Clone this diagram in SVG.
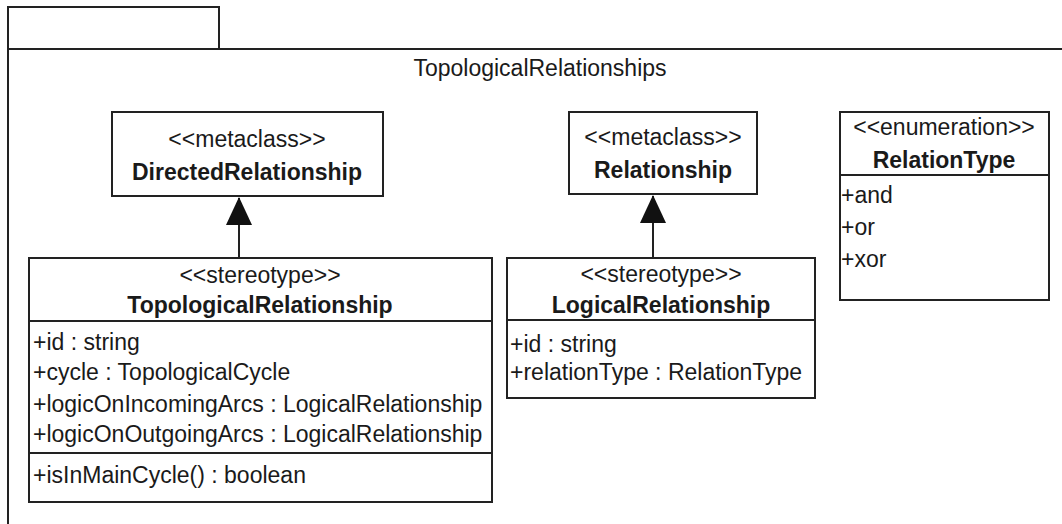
<svg xmlns="http://www.w3.org/2000/svg" width="1062" height="524" viewBox="0 0 1062 524">
<style>
  .ln { fill: none; stroke: #222; stroke-width: 2; }
  .box { fill: #fff; stroke: #222; stroke-width: 2; }
  text { font-family: "Liberation Sans", Arial, sans-serif; font-size: 23px; fill: #1a1a1a; }
  .c { text-anchor: middle; }
  .b { font-weight: bold; }
</style>
<defs>
  <marker id="gen" viewBox="0 0 28 26" refX="27" refY="13" markerWidth="28" markerHeight="26" markerUnits="userSpaceOnUse" orient="auto">
    <path d="M0,0 L28,13 L0,26 Z" fill="#111"/>
  </marker>
</defs>
<rect width="1062" height="524" fill="#fff"/>
<g id="package">
  <path class="ln" d="M8,49 V7 H219 V49"/>
  <path class="ln" d="M8,530 V49 H1070"/>
  <text class="c" x="540" y="76">TopologicalRelationships</text>
</g>
<g id="connectors">
  <line class="ln" x1="239" y1="258" x2="239" y2="198" marker-end="url(#gen)"/>
  <line class="ln" x1="653" y1="258" x2="653" y2="196" marker-end="url(#gen)"/>
</g>
<g id="DirectedRelationship">
  <rect class="box" x="112" y="112" width="271" height="84"/>
  <text class="c" x="247" y="147">&lt;&lt;metaclass&gt;&gt;</text>
  <text class="c b" x="247" y="180">DirectedRelationship</text>
</g>
<g id="Relationship">
  <rect class="box" x="569" y="112" width="188" height="82"/>
  <text class="c" x="663" y="145">&lt;&lt;metaclass&gt;&gt;</text>
  <text class="c b" x="663" y="178">Relationship</text>
</g>
<g id="RelationType">
  <rect class="box" x="840" y="112" width="209" height="188"/>
  <line class="ln" x1="840" y1="175" x2="1049" y2="175"/>
  <text class="c" x="944" y="135">&lt;&lt;enumeration&gt;&gt;</text>
  <text class="c b" x="944" y="168">RelationType</text>
  <text x="841" y="203">+and</text>
  <text x="841" y="235">+or</text>
  <text x="841" y="267">+xor</text>
</g>
<g id="TopologicalRelationship">
  <rect class="box" x="29" y="258" width="463" height="244"/>
  <line class="ln" x1="29" y1="321" x2="492" y2="321"/>
  <line class="ln" x1="29" y1="453" x2="492" y2="453"/>
  <text class="c" x="260" y="283">&lt;&lt;stereotype&gt;&gt;</text>
  <text class="c b" x="260" y="313">TopologicalRelationship</text>
  <text x="33" y="350">+id : string</text>
  <text x="33" y="380">+cycle : TopologicalCycle</text>
  <text x="33" y="412">+logicOnIncomingArcs : LogicalRelationship</text>
  <text x="33" y="442">+logicOnOutgoingArcs : LogicalRelationship</text>
  <text x="33" y="483">+isInMainCycle() : boolean</text>
</g>
<g id="LogicalRelationship">
  <rect class="box" x="507" y="258" width="308" height="140"/>
  <line class="ln" x1="507" y1="320" x2="815" y2="320"/>
  <text class="c" x="661" y="282">&lt;&lt;stereotype&gt;&gt;</text>
  <text class="c b" x="661" y="313">LogicalRelationship</text>
  <text x="510" y="352">+id : string</text>
  <text x="510" y="380">+relationType : RelationType</text>
</g>
</svg>
